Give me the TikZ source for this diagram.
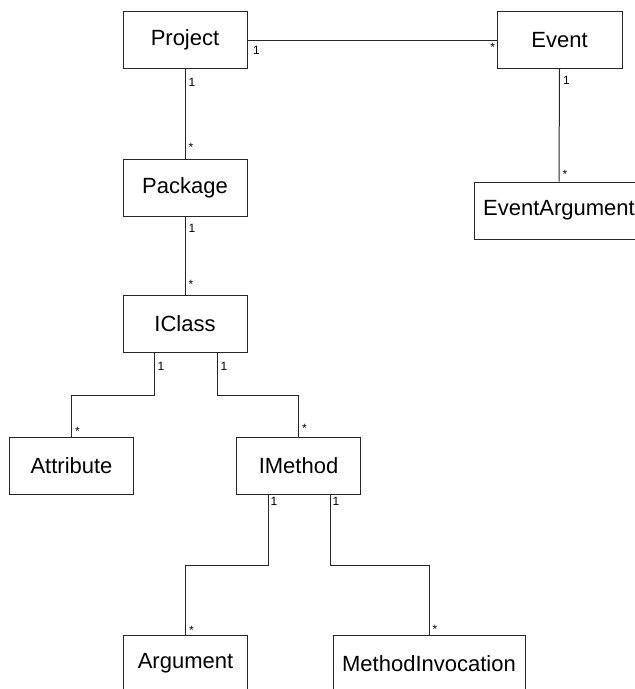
\documentclass[tikz,border=0pt]{standalone}
\usepackage{fontspec}
\setmainfont{Liberation Sans}
\begin{document}
\begin{tikzpicture}[x=1pt,y=-1pt,
  cls/.style={draw=black!85, line width=1pt, fill=white, minimum width=124pt,
    minimum height=57pt, inner sep=0pt, font=\fontsize{22}{22}\selectfont},
  assoc/.style={draw=black!85, line width=1pt},
  lab/.style={font=\fontsize{12}{12}\selectfont, inner sep=0pt, anchor=base west, xshift=3pt}]
\clip (0,0) rectangle (635,689);

% classes
\node[cls] (project) at (185,40) {Project};
\node[cls, minimum width=125pt] (event) at (559.5,40) {Event};
\node[cls] (package) at (185,187.5) {Package};
\node[cls] (iclass) at (185,323.5) {IClass};
\node[cls, minimum width=170pt] (eventarg) at (559,210.5) {EventArgument};
\node[cls] (attribute) at (71.5,465.5) {Attribute};
\node[cls] (imethod) at (298.5,465.5) {IMethod};
\node[cls] (argument) at (185.5,663.5) {Argument};
\node[cls, minimum width=192pt] (invocation) at (429,663.5) {MethodInvocation};

% associations with multiplicities
\draw[assoc] (project.east) node[lab, xshift=2pt, yshift=-14pt] {1}
  -- (event.west) node[lab, anchor=base east, xshift=-4pt, yshift=-11.5pt] {*};

\draw[assoc] (project.south) node[lab, yshift=-17pt] {1}
  -- (package.north) node[lab, yshift=7pt] {*};

\draw[assoc] (package.south) node[lab, yshift=-16pt] {1}
  -- (iclass.north) node[lab, yshift=6pt] {*};

\draw[assoc] (event.south) node[lab, yshift=-15pt] {1}
  -- (eventarg.north) node[lab, yshift=3.5pt] {*};

\draw[assoc] ([xshift=-31pt]iclass.south) node[lab, yshift=-18pt] {1}
  -- ++(0,43) -| (attribute.north) node[lab, yshift=1pt] {*};

\draw[assoc] ([xshift=32pt]iclass.south) node[lab, yshift=-18pt] {1}
  -- ++(0,43) -| (imethod.north) node[lab, yshift=4pt] {*};

\draw[assoc] ([xshift=-30.5pt]imethod.south) node[lab, xshift=-1pt, yshift=-11pt] {1}
  -- ++(0,71) -| (argument.north) node[lab, yshift=0pt] {*};

\draw[assoc] ([xshift=31.5pt]imethod.south) node[lab, xshift=-1pt, yshift=-11pt] {1}
  -- ++(0,71) -| (invocation.north) node[lab, yshift=1pt] {*};
\end{tikzpicture}
\end{document}
